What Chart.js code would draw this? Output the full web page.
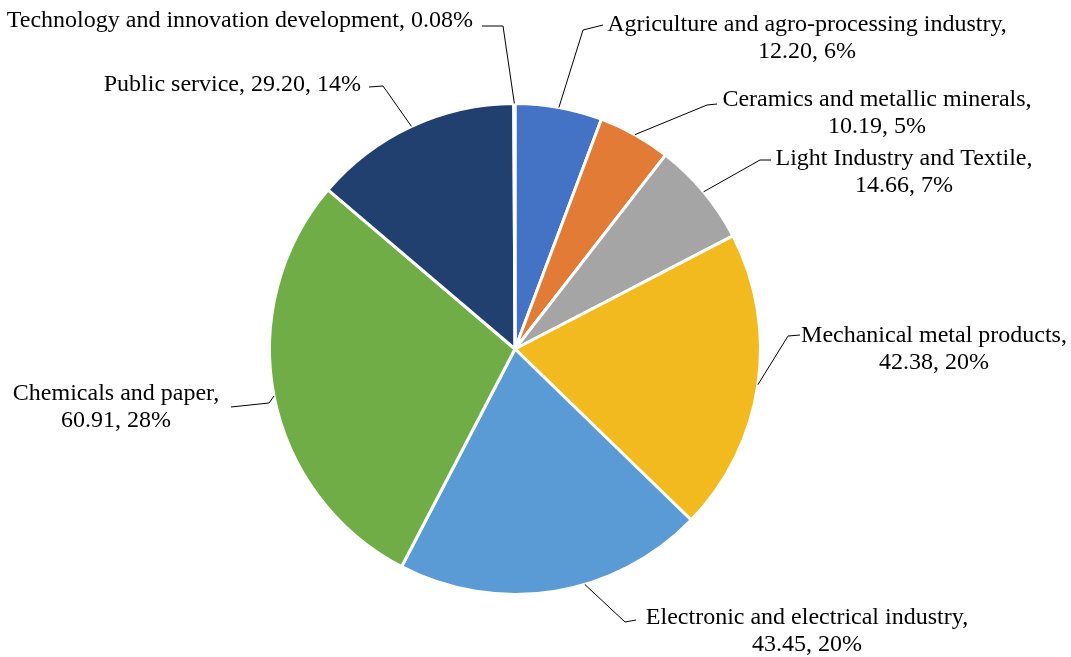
<!DOCTYPE html>
<html>
<head>
<meta charset="utf-8">
<script src="https://cdn.jsdelivr.net/npm/chart.js@4.4.1/dist/chart.umd.min.js"></script>
<style>
  html, body { margin: 0; padding: 0; background: #ffffff; }
  #wrap { width: 1071px; height: 657px; }
</style>
</head>
<body>
<div id="wrap"><canvas id="sector-chart" width="1071" height="657"></canvas></div>
<script>
// Investment by sector
const sectors = [
    'Agriculture and agro-processing industry',
    'Ceramics and metallic minerals',
    'Light Industry and Textile',
    'Mechanical metal products',
    'Electronic and electrical industry',
    'Chemicals and paper',
    'Public service',
    'Technology and innovation development'
];
const amounts = [12.20, 10.19, 14.66, 42.38, 43.45, 60.91, 29.20, 0.17];
const shares = ['6%', '5%', '7%', '20%', '20%', '28%', '14%', '0.08%'];
const showAmount = [true, true, true, true, true, true, true, false];
const sliceColors = ['#4472C4', '#E27B36', '#A5A5A5', '#F2BA1E', '#5B9BD5', '#70AD47', '#22406F', '#9E480E'];

// label placement: text anchor, alignment, line break, leader elbow / end, where on the slice the leader lands
const labelLayout = [
    { x: 807, y: 25, align: 'center', split: true, elbow: [583, 30], end: [603, 25], at: 0.5 },
    { x: 877, y: 100, align: 'center', split: true, elbow: [707, 105], end: [717, 104], at: 0.5 },
    { x: 904, y: 159, align: 'center', split: true, elbow: [760, 160], end: [771, 160], at: 0.5 },
    { x: 934, y: 336, align: 'center', split: true, elbow: [788, 336], end: [800, 335], at: 0.5 },
    { x: 807, y: 618, align: 'center', split: true, elbow: [625, 622], end: [636, 620], at: 0.4 },
    { x: 116, y: 394, align: 'center', split: true, elbow: [269, 403], end: [231, 407], at: 0.5 },
    { x: 361, y: 85, align: 'right', split: false, elbow: [383, 86], end: [369, 87], at: 0.5 },
    { x: 473, y: 21, align: 'right', split: false, elbow: [503, 26], end: [482, 26], at: 0.5 }
];

function labelLines(i) {
    const tail = showAmount[i] ? amounts[i].toFixed(2) + ', ' + shares[i] : shares[i];
    if (labelLayout[i].split) {
        return [sectors[i] + ',', tail];
    }
    return [sectors[i] + ', ' + tail];
}

const calloutPlugin = {
    id: 'callouts',
    afterDatasetsDraw(chart) {
        const ctx = chart.ctx;
        const arcs = chart.getDatasetMeta(0).data;
        ctx.save();
        ctx.font = '24px "Liberation Serif", "Times New Roman", serif';
        ctx.fillStyle = '#000000';
        ctx.textBaseline = 'middle';
        arcs.forEach((arc, i) => {
            const lay = labelLayout[i];
            const p = arc.getProps(['x', 'y', 'startAngle', 'endAngle', 'outerRadius'], true);
            const a = p.startAngle + (p.endAngle - p.startAngle) * lay.at;
            const ax = p.x + Math.cos(a) * p.outerRadius;
            const ay = p.y + Math.sin(a) * p.outerRadius;

            ctx.strokeStyle = '#000000';
            ctx.lineWidth = 1;
            ctx.beginPath();
            ctx.moveTo(ax, ay);
            ctx.lineTo(lay.elbow[0], lay.elbow[1]);
            ctx.lineTo(lay.end[0], lay.end[1]);
            ctx.stroke();

            ctx.textAlign = lay.align;
            labelLines(i).forEach((line, k) => {
                ctx.fillText(line, lay.x, lay.y + k * 27);
            });
        });
        ctx.restore();
    }
};

const ctx = document.getElementById('sector-chart').getContext('2d');
new Chart(ctx, {
    type: 'pie',
    data: {
        labels: sectors,
        datasets: [{
            data: amounts,
            backgroundColor: sliceColors,
            borderColor: '#ffffff',
            borderWidth: 3
        }]
    },
    options: {
        responsive: false,
        animation: false,
        layout: {
            padding: { left: 268, right: 309, top: 102, bottom: 61 }
        },
        plugins: {
            legend: { display: false },
            tooltip: { enabled: false }
        }
    },
    plugins: [calloutPlugin]
});
</script>
</body>
</html>
